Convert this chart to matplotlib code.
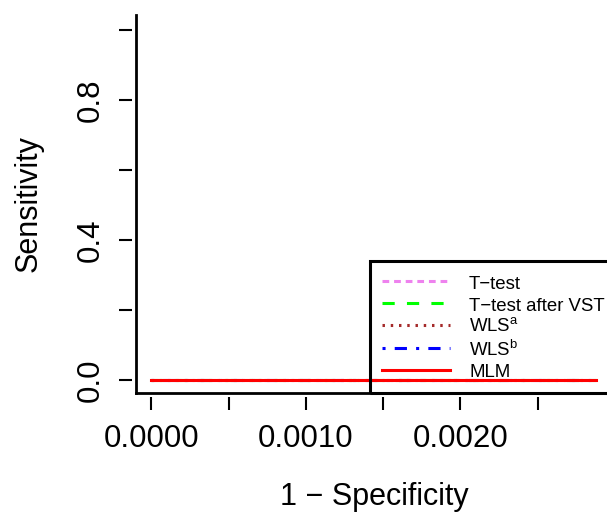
import matplotlib
matplotlib.use("Agg")
import matplotlib.pyplot as plt

plt.rcParams['font.family'] = ['Liberation Sans', 'DejaVu Sans']

# ROC data (1 - specificity, sensitivity) for each method
fpr = [0.0, 0.00288]
sens_ttest = [0.0, 0.0]
sens_ttest_vst = [0.0, 0.0]
sens_wls_a = [0.0, 0.0]
sens_wls_b = [0.0, 0.0]
sens_mlm = [0.0, 0.0]

labels = ['T\u2212test', 'T\u2212test after VST', r'WLS$^\mathregular{a}$',
          r'WLS$^\mathregular{b}$', 'MLM']

x_ticks = [0.0, 0.0005, 0.0010, 0.0015, 0.0020, 0.0025]
x_ticklabels = ['0.0000', '', '0.0010', '', '0.0020', '']
y_ticks = [0.0, 0.2, 0.4, 0.6, 0.8, 1.0]
y_ticklabels = ['0.0', '', '0.4', '', '0.8', '']

W, H = 607, 522
fig = plt.figure(figsize=(W / 100, H / 100), dpi=100)
left, right, top, bottom = 136, 615, 15, 393
ax = fig.add_axes([left / W, (H - bottom) / H, (right - left) / W, (bottom - top) / H])

lw = 2.2
ax.plot(fpr, sens_ttest, color='violet', lw=lw, linestyle=(0, (2.2, 1.6)), label=labels[0])
ax.plot(fpr, sens_ttest_vst, color='#00FF00', lw=lw, linestyle=(0, (4, 4)), label=labels[1])
ax.plot(fpr, sens_wls_a, color='brown', lw=lw, linestyle=(0, (0.8, 1.9)), label=labels[2])
ax.plot(fpr, sens_wls_b, color='blue', lw=lw, linestyle=(0, (1, 3, 4, 3)), label=labels[3])
ax.plot(fpr, sens_mlm, color='red', lw=lw, linestyle='-', label=labels[4])

ax.set_xlim(-0.0001, 0.003)
ax.set_ylim(-0.037, 1.043)

# R-style L box, ticks slightly detached from the box
for side in ['top', 'right', 'left', 'bottom']:
    ax.spines[side].set_visible(False)
ax.spines['left'].set_position(('outward', 3))
ax.spines['bottom'].set_position(('outward', 3))
ax.plot([0, 0], [0, 1], transform=ax.transAxes, color='black', lw=2, clip_on=False)
ax.plot([0, 1], [0, 0], transform=ax.transAxes, color='black', lw=2, clip_on=False)

ax.set_xticks(x_ticks)
ax.set_xticklabels(x_ticklabels)
ax.set_yticks(y_ticks)
ax.set_yticklabels(y_ticklabels, rotation=90, va='center')
ax.tick_params(length=9.5, width=1.5, pad=9.5, labelsize=22.5, color='black')

ax.set_xlabel('1 \u2212 Specificity', fontsize=22)
ax.xaxis.set_label_coords(0.497, -0.235)
ax.set_ylabel('Sensitivity', fontsize=22, va='center')
ax.yaxis.set_label_coords((29 - left) / (right - left), 0.5)

leg = ax.legend(loc='lower left', bbox_to_anchor=(370 / W, (H - bottom) / H),
                bbox_transform=fig.transFigure, borderaxespad=0, fontsize=13.4,
                handlelength=3.7, handleheight=1.18, labelspacing=0.12,
                handletextpad=1.0, borderpad=0.62, fancybox=False,
                edgecolor='black', framealpha=1)
leg.get_frame().set_facecolor('none')
leg.get_frame().set_linewidth(2.2)

fig.savefig('out.png', dpi=100)
